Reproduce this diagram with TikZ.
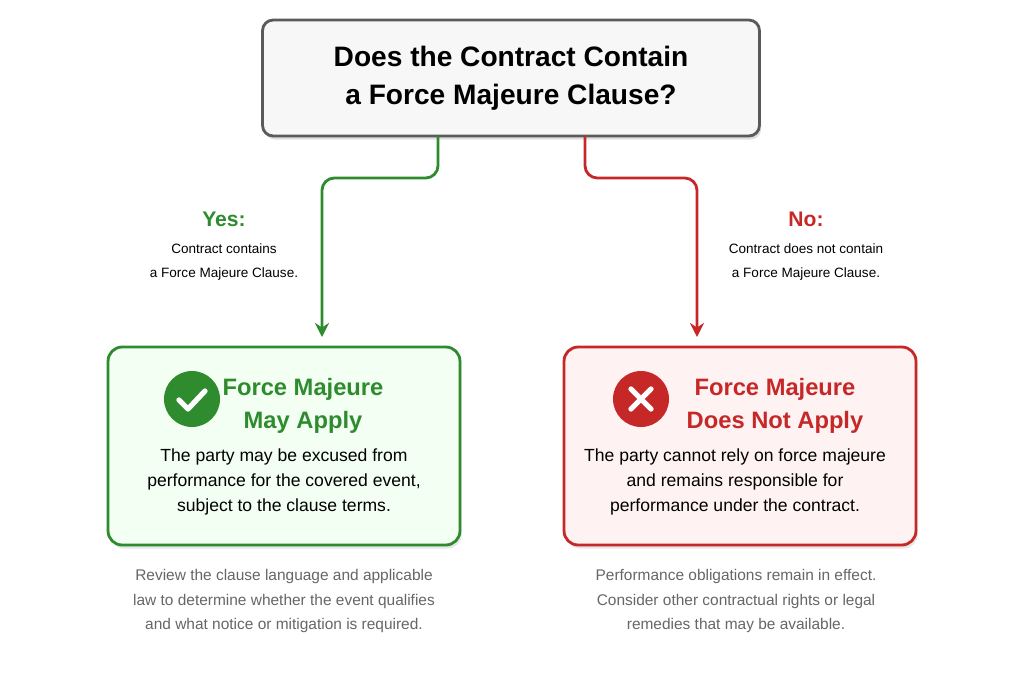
\documentclass[tikz,border=0pt]{standalone}
\usepackage{fontspec}
\setmainfont{Liberation Sans}
\usetikzlibrary{positioning,shadows,arrows.meta}
\definecolor{yesgreen}{HTML}{2E8B2E}
\definecolor{nored}{HTML}{C62828}
\definecolor{bordergray}{HTML}{5A5A5A}
\definecolor{notegray}{HTML}{666666}
\begin{document}
\begin{tikzpicture}
[x=0.02cm,y=-0.02cm,
 every node/.style={inner sep=0mm,outer sep=0mm,align=center},
 question/.style={rectangle,rounded corners=6pt,draw=bordergray,line width=1.6pt,fill=gray!6,
   minimum width=9.94cm,minimum height=2.32cm,font=\fontsize{16}{21.5}\selectfont\bfseries,
   drop shadow={opacity=0.25,shadow xshift=1pt,shadow yshift=-2pt}},
 result/.style={rectangle,rounded corners=8pt,line width=1.6pt,minimum width=7.04cm,minimum height=3.96cm,
   drop shadow={opacity=0.2,shadow xshift=1pt,shadow yshift=-2pt}},
 head/.style={font=\fontsize{13.5}{19}\selectfont\bfseries},
 body/.style={font=\fontsize{10}{14.2}\selectfont},
 label/.style={font=\fontsize{7.7}{13.3}\selectfont},
 note/.style={font=\fontsize{8.8}{13.7}\selectfont,text=notegray},
 link/.style={line width=1.6pt,rounded corners=7pt,-{Stealth[length=8pt,width=8pt]}},
 thick]
\useasboundingbox (0,0) rectangle (1024,683);

\node[question] (q) at (511,78) {Does the Contract Contain\\a Force Majeure Clause?};

\node[result,draw=yesgreen,fill=green!5] (yesbox) at (284,446) {};
\node[result,draw=nored,fill=red!5] (nobox) at (740,446) {};

% icons
\node[circle,fill=yesgreen,minimum size=1.12cm] (tick) at (192,399) {};
\draw[white,line width=3pt,line cap=round,line join=round] (179,400) -- (188,409) -- (205,391);
\node[circle,fill=nored,minimum size=1.12cm] (cross) at (641,399) {};
\draw[white,line width=3pt,line cap=round] (631,389) -- (651,409) (651,389) -- (631,409);

\node[head,text=yesgreen] (yeshead) at (303,406) {Force Majeure\\May Apply};
\node[head,text=nored] (nohead) at (775,406) {Force Majeure\\Does Not Apply};
\node[body] (yesbody) at (284,482) {The party may be excused from\\performance for the covered event,\\subject to the clause terms.};
\node[body] (nobody) at (735,482) {The party cannot rely on force majeure\\and remains responsible for\\performance under the contract.};

% branches
\coordinate (yestip) at (322,337);
\coordinate (notip) at (697,337);
\draw[link,yesgreen] (438,136) -- (438,178) -- (322,178) -- (yestip);
\draw[link,nored] (585,136) -- (585,178) -- (697,178) -- (notip);

\node[font=\fontsize{12}{14}\selectfont\bfseries,text=yesgreen] (yes) at (224,219) {Yes:};
\node[label] (yestext) at (224,262) {Contract contains\\a Force Majeure Clause.};
\node[font=\fontsize{12}{14}\selectfont\bfseries,text=nored] (no) at (806,219) {No:};
\node[label] (notext) at (806,262) {Contract does not contain\\a Force Majeure Clause.};

\node[note] (yesnote) at (284,601) {Review the clause language and applicable\\law to determine whether the event qualifies\\and what notice or mitigation is required.};
\node[note] (nonote) at (736,601) {Performance obligations remain in effect.\\Consider other contractual rights or legal\\remedies that may be available.};
\end{tikzpicture}
\end{document}
